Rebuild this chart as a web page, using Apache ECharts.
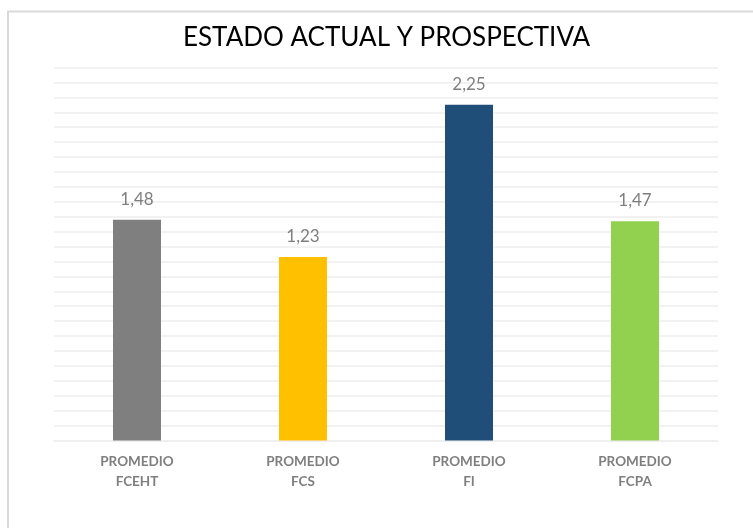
<!DOCTYPE html>
<html>
<head>
<meta charset="utf-8">
<script src="https://cdn.jsdelivr.net/npm/echarts@6/dist/echarts.min.js"></script>
<style>
  html, body { margin: 0; padding: 0; background: #fff; }
  #chart { width: 753px; height: 528px; }
</style>
</head>
<body>
<div id="chart"></div>
<script>
  // datos
  const categories = ['PROMEDIO\nFCEHT', 'PROMEDIO\nFCS', 'PROMEDIO\nFI', 'PROMEDIO\nFCPA']
  const values = [1.48, 1.23, 2.25, 1.47]
  const barColors = ['#7f7f7f', '#ffc000', '#1f4e79', '#92d050']

  const chart = echarts.init(document.getElementById('chart'))

  chart.setOption({
    animation: false,
    textStyle: { fontFamily: 'Lato' },
    title: {
      text: 'ESTADO ACTUAL Y PROSPECTIVA',
      left: 178,
      top: 20,
      textStyle: {
        fontFamily: 'Lato',
        fontSize: 26,
        fontWeight: 'normal',
        color: '#000'
      }
    },
    graphic: [{
      type: 'polyline',
      silent: true,
      shape: { points: [[8, 528], [8, 11.5], [760, 11.5]] },
      style: { stroke: '#d9d9d9', lineWidth: 2, fill: null }
    }],
    grid: {
      left: 54,
      right: 35,
      top: 67.5,
      bottom: 87.5
    },
    xAxis: {
      type: 'category',
      data: categories,
      axisTick: { show: false },
      axisLine: { show: true, lineStyle: { color: '#eeeeee', width: 1.5 } },
      axisLabel: {
        color: '#7f7f7f',
        fontWeight: 'bold',
        fontSize: 13.5,
        lineHeight: 20,
        margin: 11
      }
    },
    yAxis: {
      type: 'value',
      min: 0,
      max: 2.5,
      interval: 0.1,
      axisLabel: { show: false },
      axisTick: { show: false },
      axisLine: { show: false },
      splitLine: { lineStyle: { color: '#eeeeee', width: 1.5 } }
    },
    series: [{
      type: 'bar',
      barWidth: 48,
      data: values.map((v, i) => ({ value: v, itemStyle: { color: barColors[i] } })),
      label: {
        show: true,
        position: 'top',
        distance: 12,
        color: '#7f7f7f',
        fontSize: 17,
        formatter: p => p.value.toFixed(2).replace('.', ',')
      }
    }]
  })
</script>
</body>
</html>
